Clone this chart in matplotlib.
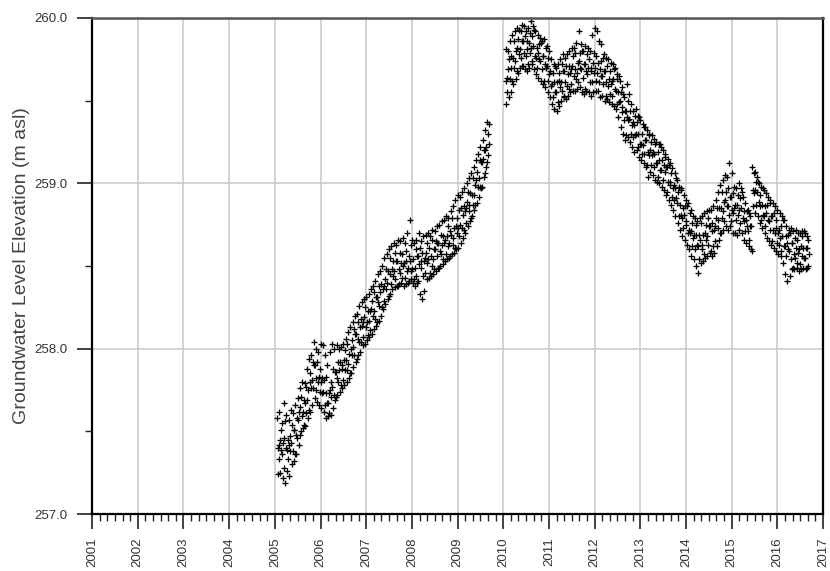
import numpy as np
import matplotlib
matplotlib.use("Agg")
import matplotlib.pyplot as plt
from matplotlib.ticker import MultipleLocator

plt.rcParams['font.family'] = ['Liberation Sans', 'DejaVu Sans']

# ---- data (decimal years, m asl) ----
# first record: 2005.05 .. 2009.65, every 0.05 yr
seg1_start, seg1_step = 2005.05, 0.05
seg1_high = [257.58, 257.62, 257.55, 257.67, 257.60, 257.57, 257.63, 257.61, 257.66, 257.70,
             257.76, 257.80, 257.79, 257.88, 257.94, 257.96, 258.04, 258.00, 257.98, 258.03,
             258.02, 257.96, 257.90, 257.98, 258.03, 258.00, 258.02, 258.00, 258.01, 258.03,
             258.06, 258.10, 258.13, 258.16, 258.20, 258.21, 258.26, 258.28, 258.30, 258.31,
             258.33, 258.36, 258.38, 258.41, 258.45, 258.47, 258.50, 258.55, 258.57, 258.60,
             258.62, 258.64, 258.63, 258.66, 258.65, 258.67, 258.64, 258.70, 258.78, 258.66,
             258.64, 258.66, 258.70, 258.65, 258.68, 258.69, 258.70, 258.68, 258.72, 258.71,
             258.74, 258.75, 258.77, 258.78, 258.80, 258.79, 258.83, 258.86, 258.90, 258.93,
             258.92, 258.95, 258.97, 259.00, 259.03, 259.06, 259.10, 259.14, 259.18, 259.22,
             259.26, 259.32, 259.37]
seg1_upper = [257.42, 257.51, 257.43, 257.56, 257.45, 257.47, 257.54, 257.51, 257.58, 257.62,
              257.71, 257.69, 257.77, 257.75, 257.85, 257.92, 257.90, 257.92, 257.88, 257.82,
              257.81, 257.83, 257.73, 257.80, 257.88, 257.86, 257.92, 257.92, 257.90, 257.99,
              258.03, 257.97, 258.05, 258.12, 258.09, 258.16, 258.18, 258.16, 258.25, 258.23,
              258.23, 258.29, 258.34, 258.31, 258.38, 258.39, 258.38, 258.48, 258.47, 258.55,
              258.53, 258.58, 258.53, 258.58, 258.57, 258.52, 258.59, 258.56, 258.63, 258.54,
              258.60, 258.56, 258.61, 258.58, 258.55, 258.64, 258.61, 258.66, 258.60, 258.65,
              258.64, 258.69, 258.68, 258.66, 258.74, 258.71, 258.79, 258.73, 258.79, 258.84,
              258.85, 258.86, 258.85, 258.95, 258.94, 259.03, 258.99, 259.07, 259.14, 259.13,
              259.20, 259.22, 259.36]
seg1_mid = [257.40, 257.45, 257.36, 257.46, 257.39, 257.42, 257.43, 257.51, 257.48, 257.57,
            257.65, 257.62, 257.67, 257.69, 257.80, 257.81, 257.90, 257.82, 257.83, 257.80,
            257.74, 257.73, 257.67, 257.75, 257.77, 257.86, 257.82, 257.87, 257.88, 257.93,
            257.93, 257.91, 258.00, 258.01, 258.09, 258.06, 258.13, 258.14, 258.19, 258.16,
            258.17, 258.24, 258.23, 258.31, 258.28, 258.34, 258.36, 258.42, 258.40, 258.45,
            258.48, 258.47, 258.53, 258.48, 258.52, 258.50, 258.53, 258.49, 258.53, 258.48,
            258.49, 258.56, 258.51, 258.53, 258.53, 258.58, 258.54, 258.56, 258.54, 258.60,
            258.64, 258.59, 258.63, 258.64, 258.68, 258.64, 258.69, 258.67, 258.74, 258.73,
            258.75, 258.81, 258.83, 258.89, 258.87, 258.93, 258.93, 259.02, 259.03, 259.13,
            259.15, 259.20, 259.30]
seg1_lower = [257.33, 257.39, 257.28, 257.40, 257.33, 257.38, 257.38, 257.36, 257.46, 257.48,
              257.59, 257.54, 257.61, 257.63, 257.76, 257.76, 257.75, 257.80, 257.74, 257.73,
              257.66, 257.67, 257.61, 257.71, 257.72, 257.71, 257.80, 257.78, 257.81, 257.87,
              257.87, 257.85, 257.96, 257.96, 257.94, 258.04, 258.04, 258.07, 258.13, 258.08,
              258.11, 258.20, 258.18, 258.16, 258.26, 258.25, 258.29, 258.36, 258.32, 258.39,
              258.44, 258.42, 258.38, 258.46, 258.43, 258.43, 258.47, 258.41, 258.47, 258.42,
              258.44, 258.41, 258.49, 258.44, 258.46, 258.52, 258.46, 258.50, 258.48, 258.56,
              258.49, 258.57, 258.54, 258.57, 258.62, 258.56, 258.63, 258.61, 258.70, 258.68,
              258.73, 258.72, 258.76, 258.83, 258.79, 258.87, 258.87, 258.98, 258.98, 258.98,
              259.06, 259.13, 259.24]
seg1_low = [257.24, 257.25, 257.22, 257.19, 257.26, 257.23, 257.30, 257.32, 257.36, 257.42,
            257.50, 257.52, 257.53, 257.58, 257.62, 257.66, 257.70, 257.68, 257.66, 257.64,
            257.62, 257.58, 257.59, 257.60, 257.64, 257.69, 257.72, 257.74, 257.76, 257.78,
            257.80, 257.82, 257.85, 257.89, 257.92, 257.96, 257.98, 258.02, 258.03, 258.05,
            258.07, 258.09, 258.12, 258.14, 258.17, 258.20, 258.24, 258.27, 258.30, 258.33,
            258.36, 258.37, 258.38, 258.39, 258.40, 258.38, 258.39, 258.40, 258.42, 258.40,
            258.38, 258.40, 258.33, 258.30, 258.35, 258.42, 258.43, 258.44, 258.45, 258.47,
            258.49, 258.50, 258.51, 258.53, 258.54, 258.55, 258.57, 258.58, 258.60, 258.61,
            258.64, 258.67, 258.70, 258.74, 258.77, 258.80, 258.84, 258.88, 258.92, 258.97,
            259.04, 259.10, 259.17]

# second record: 2010.05 .. 2016.65, every 0.05 yr
seg2_start, seg2_step = 2010.05, 0.05
seg2_high = [259.81, 259.80, 259.86, 259.90, 259.92, 259.94, 259.93, 259.96, 259.95, 259.92,
             259.94, 259.98, 259.95, 259.92, 259.90, 259.88, 259.86, 259.87, 259.83, 259.80,
             259.75, 259.72, 259.70, 259.72, 259.75, 259.78, 259.76, 259.78, 259.80, 259.82,
             259.82, 259.85, 259.92, 259.84, 259.80, 259.83, 259.82, 259.80, 259.90, 259.94,
             259.92, 259.86, 259.84, 259.78, 259.76, 259.75, 259.73, 259.72, 259.70, 259.66,
             259.62, 259.58, 259.52, 259.60, 259.54, 259.48, 259.44, 259.45, 259.41, 259.38,
             259.36, 259.34, 259.32, 259.30, 259.29, 259.27, 259.25, 259.24, 259.22, 259.20,
             259.18, 259.15, 259.12, 259.09, 259.06, 259.02, 258.98, 258.96, 258.93, 258.90,
             258.88, 258.84, 258.80, 258.79, 258.77, 258.79, 258.80, 258.82, 258.83, 258.84,
             258.84, 258.86, 258.90, 258.95, 258.99, 259.02, 259.05, 259.04, 259.12, 259.06,
             258.98, 258.97, 259.00, 258.97, 258.92, 258.88, 258.84, 258.80, 259.10, 259.07,
             259.04, 259.00, 258.98, 258.96, 258.94, 258.92, 258.90, 258.88, 258.86, 258.84,
             258.82, 258.80, 258.78, 258.74, 258.72, 258.73, 258.71, 258.72, 258.70, 258.70,
             258.71, 258.70, 258.68]
seg2_upper = [259.64, 259.75, 259.77, 259.86, 259.80, 259.87, 259.92, 259.86, 259.89, 259.86,
              259.91, 259.89, 259.93, 259.82, 259.84, 259.85, 259.77, 259.82, 259.76, 259.68,
              259.67, 259.71, 259.61, 259.67, 259.72, 259.68, 259.71, 259.71, 259.69, 259.77,
              259.79, 259.73, 259.79, 259.80, 259.72, 259.78, 259.75, 259.70, 259.79, 259.77,
              259.73, 259.74, 259.76, 259.68, 259.71, 259.68, 259.62, 259.69, 259.63, 259.65,
              259.55, 259.54, 259.44, 259.50, 259.44, 259.37, 259.41, 259.37, 259.40, 259.30,
              259.34, 259.26, 259.29, 259.25, 259.19, 259.24, 259.19, 259.24, 259.14, 259.16,
              259.10, 259.11, 259.06, 258.99, 259.03, 258.95, 258.97, 258.85, 258.86, 258.86,
              258.82, 258.76, 258.69, 258.75, 258.69, 258.76, 258.69, 258.75, 258.79, 258.74,
              258.76, 258.74, 258.85, 258.85, 258.95, 258.89, 258.95, 258.97, 258.92, 258.94,
              258.87, 258.93, 258.91, 258.95, 258.83, 258.83, 258.82, 258.74, 259.06, 259.01,
              259.01, 258.93, 258.97, 258.86, 258.87, 258.88, 258.80, 258.82, 258.78, 258.72,
              258.74, 258.78, 258.68, 258.69, 258.70, 258.64, 258.67, 258.66, 258.60, 258.68,
              258.71, 258.61, 258.66]
seg2_mid = [259.62, 259.69, 259.70, 259.76, 259.74, 259.82, 259.81, 259.86, 259.79, 259.81,
            259.85, 259.82, 259.83, 259.76, 259.79, 259.74, 259.77, 259.72, 259.71, 259.66,
            259.60, 259.61, 259.55, 259.62, 259.61, 259.68, 259.61, 259.66, 259.67, 259.71,
            259.69, 259.67, 259.74, 259.69, 259.72, 259.68, 259.70, 259.68, 259.73, 259.70,
            259.67, 259.69, 259.65, 259.68, 259.61, 259.63, 259.60, 259.63, 259.56, 259.55,
            259.50, 259.43, 259.44, 259.40, 259.39, 259.35, 259.35, 259.30, 259.30, 259.24,
            259.23, 259.26, 259.19, 259.20, 259.17, 259.18, 259.12, 259.14, 259.08, 259.11,
            259.10, 259.01, 259.01, 258.97, 258.97, 258.88, 258.87, 258.79, 258.81, 258.75,
            258.72, 258.71, 258.67, 258.69, 258.62, 258.66, 258.63, 258.70, 258.68, 258.74,
            258.71, 258.72, 258.79, 258.78, 258.85, 258.83, 258.90, 258.86, 258.92, 258.84,
            258.85, 258.87, 258.84, 258.85, 258.77, 258.78, 258.71, 258.74, 258.96, 258.96,
            258.95, 258.86, 258.87, 258.80, 258.82, 258.77, 258.80, 258.72, 258.73, 258.70,
            258.67, 258.68, 258.62, 258.64, 258.59, 258.64, 258.57, 258.61, 258.58, 258.62,
            258.61, 258.55, 258.61]
seg2_lower = [259.55, 259.63, 259.62, 259.70, 259.68, 259.78, 259.76, 259.71, 259.77, 259.72,
              259.79, 259.74, 259.77, 259.70, 259.75, 259.69, 259.62, 259.70, 259.62, 259.59,
              259.52, 259.55, 259.49, 259.58, 259.56, 259.53, 259.59, 259.57, 259.60, 259.65,
              259.63, 259.61, 259.70, 259.64, 259.57, 259.66, 259.61, 259.61, 259.67, 259.62,
              259.61, 259.65, 259.60, 259.53, 259.59, 259.54, 259.53, 259.57, 259.48, 259.49,
              259.46, 259.38, 259.29, 259.38, 259.30, 259.28, 259.29, 259.22, 259.24, 259.18,
              259.18, 259.11, 259.17, 259.11, 259.10, 259.12, 259.04, 259.08, 259.02, 259.07,
              258.95, 258.99, 258.92, 258.90, 258.91, 258.80, 258.81, 258.73, 258.77, 258.70,
              258.70, 258.62, 258.60, 258.63, 258.54, 258.60, 258.57, 258.66, 258.63, 258.59,
              258.62, 258.65, 258.73, 258.70, 258.79, 258.77, 258.86, 258.81, 258.77, 258.82,
              258.78, 258.81, 258.76, 258.79, 258.71, 258.74, 258.66, 258.59, 258.94, 258.87,
              258.89, 258.78, 258.81, 258.74, 258.78, 258.72, 258.65, 258.70, 258.64, 258.63,
              258.59, 258.62, 258.56, 258.60, 258.54, 258.49, 258.55, 258.52, 258.51, 258.56,
              258.55, 258.49, 258.57]
seg2_low = [259.48, 259.52, 259.55, 259.60, 259.63, 259.67, 259.70, 259.71, 259.69, 259.68,
            259.70, 259.72, 259.69, 259.66, 259.64, 259.62, 259.60, 259.58, 259.55, 259.52,
            259.48, 259.45, 259.44, 259.47, 259.50, 259.52, 259.51, 259.53, 259.55, 259.56,
            259.56, 259.57, 259.58, 259.55, 259.54, 259.56, 259.55, 259.53, 259.55, 259.56,
            259.56, 259.52, 259.53, 259.50, 259.51, 259.49, 259.48, 259.47, 259.45, 259.40,
            259.34, 259.30, 259.26, 259.28, 259.25, 259.22, 259.19, 259.20, 259.16, 259.14,
            259.12, 259.10, 259.04, 259.07, 259.05, 259.02, 259.01, 259.00, 258.98, 258.96,
            258.93, 258.90, 258.87, 258.84, 258.80, 258.76, 258.72, 258.68, 258.66, 258.63,
            258.60, 258.56, 258.54, 258.50, 258.46, 258.52, 258.53, 258.55, 258.56, 258.58,
            258.56, 258.58, 258.62, 258.66, 258.70, 258.72, 258.74, 258.72, 258.74, 258.70,
            258.70, 258.69, 258.72, 258.70, 258.66, 258.64, 258.62, 258.60, 258.86, 258.82,
            258.80, 258.76, 258.73, 258.70, 258.67, 258.65, 258.63, 258.61, 258.59, 258.57,
            258.56, 258.52, 258.45, 258.41, 258.44, 258.48, 258.48, 258.49, 258.47, 258.48,
            258.49, 258.48, 258.50]

years = list(range(2001, 2018))
ylabels = ["257.0", "258.0", "259.0", "260.0"]

fig = plt.figure(figsize=(8.3, 5.71), dpi=100)
ax = fig.add_axes([0.111, 0.0998, 0.8806, 0.8687])

# readings inside one time step are spread a little so they don't sit in one column
shift = [0.0, 0.03, 0.01, 0.04, 0.02]
bands1 = [seg1_high, seg1_upper, seg1_mid, seg1_lower, seg1_low]
bands2 = [seg2_high, seg2_upper, seg2_mid, seg2_lower, seg2_low]
for k, vals in enumerate(bands1):
    t = seg1_start + seg1_step * np.arange(len(vals)) + shift[k]
    ax.plot(t, vals, ls='none', marker='+', ms=4.3, mew=0.95, color='black')
for k, vals in enumerate(bands2):
    t = seg2_start + seg2_step * np.arange(len(vals)) + shift[k]
    ax.plot(t, vals, ls='none', marker='+', ms=4.3, mew=0.95, color='black')

ax.set_xlim(2001, 2017)
ax.set_ylim(257, 260)
ax.set_xticks(years)
ax.set_xticklabels([str(y) for y in years], rotation=90)
ax.xaxis.set_minor_locator(MultipleLocator(1 / 6))
ax.set_yticks([257, 258, 259, 260])
ax.set_yticklabels(ylabels)
ax.yaxis.set_minor_locator(MultipleLocator(0.5))

ax.grid(True, which='major', color='#cccccc', lw=1.2)
ax.set_axisbelow(True)

ax.tick_params(axis='both', which='major', length=11, width=1.2, color='#222222',
               labelsize=9.5, labelcolor='#333333', direction='out')
ax.tick_params(axis='x', which='major', pad=6)
ax.tick_params(axis='y', which='major', pad=7)
ax.tick_params(axis='both', which='minor', length=5, width=1.0, color='#222222', direction='out')

for s in ['left', 'bottom', 'right']:
    ax.spines[s].set_linewidth(1.6)
    ax.spines[s].set_color('black')
ax.spines['top'].set_linewidth(1.8)
ax.spines['top'].set_color('#555555')

ax.set_ylabel('Groundwater Level Elevation (m asl)', fontsize=14, color='#444444', labelpad=3)

fig.savefig('out.png', dpi=100)
